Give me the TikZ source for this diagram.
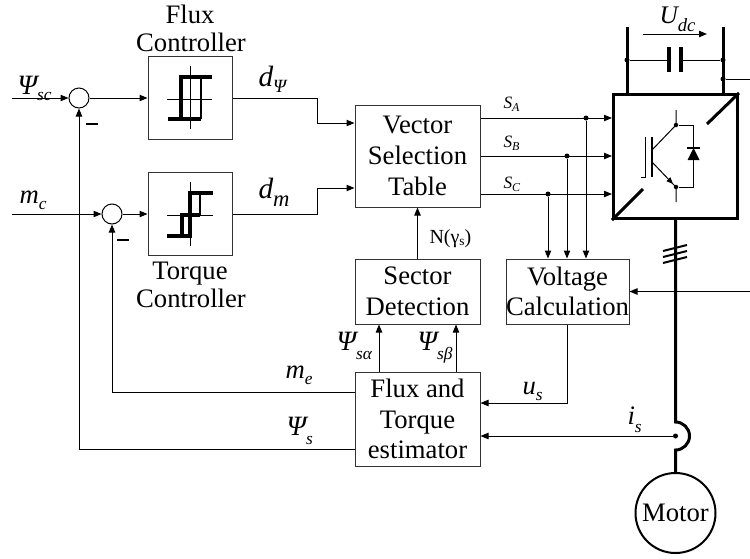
\documentclass[tikz,border=0pt]{standalone}
\usepackage{fontspec}
\setmainfont{Liberation Serif}
\usetikzlibrary{arrows.meta}
\newdimen\px \px=0.75pt
\newcommand\sbs[2][13]{\raisebox{-4.5pt}{\fontsize{#1}{#1}\selectfont\itshape #2}}
\newcommand\lab[2]{{\itshape #1}\sbs{#2}}
\begin{document}
\begin{tikzpicture}[x=0.75pt,y=-0.75pt,line width=0.75pt,
  box/.style={draw=black!80, line width=0.75pt, inner sep=0pt, align=center, font=\fontsize{20}{23}\selectfont},
  txt/.style={inner sep=0pt, font=\fontsize{20}{23}\selectfont},
  lbl/.style={inner sep=0pt, anchor=base west, font=\fontsize{20}{20}\selectfont},
  arr/.style={-{Triangle[length=6pt,width=4.8pt]}},
  sum/.style={circle, draw, minimum size=20\px, inner sep=0pt},
  dot/.style={circle, fill, minimum size=5\px, inner sep=0pt},
  tk/.style={line width=2.25pt},
  hthk/.style={line width=2.6pt},
  hthn/.style={line width=0.6pt}]
\useasboundingbox (0,0) rectangle (750,558);

% summing junctions
\node[sum] (s1) at (79,98) {};
\node[sum] (s2) at (112,214) {};
\coordinate (inPsi) at (12,98);
\coordinate (inM) at (12,214);
\node[inner sep=0pt] (minus1) at (92,124) {\rule{9pt}{1.6pt}};
\node[inner sep=0pt] (minus2) at (123,240) {\rule{9pt}{1.6pt}};

% controllers
\node[box, minimum width=84\px, minimum height=83\px] (flux) at (190,98) {};
\node[box, minimum width=84\px, minimum height=83\px] (torq) at (190,214) {};
\node[txt, anchor=base] (ft1) at (190,23) {Flux};
\node[txt, anchor=base] (ft2) at (191,51) {Controller};
\node[txt, anchor=base] (tt1) at (190,279) {Torque};
\node[txt, anchor=base] (tt2) at (191,307) {Controller};

% flux hysteresis
\draw[hthn] (190,66) -- (190,129);
\draw[hthn] (167,99) -- (212,99);
\draw[hthk] (168,119) -- (201,119);
\draw[line width=1.3pt] (201,119) -- (201,77);
\draw[hthk] (181,119) -- (181,77) -- (212,77);

% torque hysteresis
\draw[hthn] (190,182) -- (190,246);
\draw[hthn] (167,215) -- (213,215);
\draw[hthk] (167,236) -- (190,236) -- (190,193) -- (213,193);
\draw[line width=1.3pt] (200,193) -- (200,215);
\draw[hthk] (182,236) -- (182,215) -- (200,215);

% other blocks
\node[box, minimum width=125\px, minimum height=102\px] (vst) at (417.5,156) {Vector\\Selection\\Table};
\node[box, minimum width=125\px, minimum height=65\px] (sect) at (417.5,291.5) {Sector\\Detection};
\node[box, minimum width=123\px, minimum height=65\px] (volt) at (567.5,291.5) {Voltage\\Calculation};
\node[box, minimum width=125\px, minimum height=94\px] (est) at (417.5,419) {Flux and\\Torque\\estimator};
\node[draw, line width=2.25pt, minimum size=124\px, inner sep=0pt] (inv) at (675.5,156.5) {};
\node[circle, draw, line width=1.5pt, minimum size=80\px, inner sep=0pt, font=\fontsize{20}{23}\selectfont] (motor) at (675.5,513) {Motor};

% signal connectors
\draw[arr] (inPsi) -- (s1);
\draw[arr] (s1) -- (flux);
\draw[arr] (inM) -- (s2);
\draw[arr] (s2) -- (torq);
\draw[arr] (est.west |- 0,449) -| (s1.south);
\draw[arr] (est.west |- 0,392) -| (s2.south);
\draw[arr] (flux.east) -- (317,98) |- (vst.west |- 0,123);
\draw[arr] (torq.east) -- (317,214) |- (vst.west |- 0,188);

\node[dot] (dA) at (586,118) {};
\node[dot] (dB) at (567,156) {};
\node[dot] (dC) at (548,194) {};
\draw[arr] (vst.east |- dA) -- (inv.west |- dA);
\draw[arr] (vst.east |- dB) -- (inv.west |- dB);
\draw[arr] (vst.east |- dC) -- (inv.west |- dC);
\draw[arr] (dA) -- (dA |- volt.north);
\draw[arr] (dB) -- (dB |- volt.north);
\draw[arr] (dC) -- (dC |- volt.north);

\draw[arr] (sect) -- (vst);
\draw[arr] (est.north -| 379,0) -- (sect.south -| 379,0);
\draw[arr] (est.north -| 456,0) -- (sect.south -| 456,0);
\draw[arr] (volt.south) |- (est.east |- 0,403);
\coordinate (vin) at (750,291.5);
\draw[arr] (vin) -- (volt.east);
\node[dot] (isd) at (675.5,436) {};
\draw[arr] (isd) -- (est.east |- isd);

% labels
\node[lbl, font=\fontsize{21}{21}\selectfont] (lpsc) at (17,94) {\lab{Ψ}{sc}};
\node[lbl] (lmc) at (19,203) {\lab{m}{c}};
\node[lbl, font=\fontsize{22}{22}\selectfont] (ldp) at (258,86) {{\itshape d}\sbs[14]{Ψ}};
\node[lbl, font=\fontsize{22}{22}\selectfont] (ldm) at (258,198) {{\itshape d}\raisebox{-6pt}{\fontsize{17}{17}\selectfont\itshape m}};
\node[lbl, font=\fontsize{13}{13}\selectfont] (lsa) at (503,108) {{\itshape S}\raisebox{-2.5pt}{\fontsize{9}{9}\selectfont\itshape A}};
\node[lbl, font=\fontsize{13}{13}\selectfont] (lsb) at (503,147) {{\itshape S}\raisebox{-2.5pt}{\fontsize{9}{9}\selectfont\itshape B}};
\node[lbl, font=\fontsize{13}{13}\selectfont] (lsc) at (503,188) {{\itshape S}\raisebox{-2.5pt}{\fontsize{9}{9}\selectfont\itshape C}};
\node[lbl, font=\fontsize{19}{19}\selectfont] (ludc) at (659,23) {{\itshape U}\raisebox{-6pt}{\fontsize{14}{14}\selectfont\itshape dc}};
\node[lbl, font=\fontsize{15}{15}\selectfont] (lng) at (429,243) {N(γ\raisebox{-2pt}{\fontsize{10}{10}\selectfont s})};
\node[lbl, font=\fontsize{21}{21}\selectfont] (lpsa) at (336,350) {{\itshape Ψ}\raisebox{-7pt}{\fontsize{13}{13}\selectfont\itshape sα}};
\node[lbl, font=\fontsize{21}{21}\selectfont] (lpsb) at (417,350) {{\itshape Ψ}\raisebox{-7pt}{\fontsize{13}{13}\selectfont\itshape sβ}};
\node[lbl] (lme) at (285,378) {\lab{m}{e}};
\node[lbl, font=\fontsize{21}{21}\selectfont] (lps) at (286,435) {{\itshape Ψ}\raisebox{-7pt}{\fontsize{13}{13}\selectfont\itshape s}};
\node[lbl] (lus) at (522,394) {\lab{u}{s}};
\node[lbl] (lis) at (627,424) {{\itshape i}\raisebox{-6pt}{\fontsize{13}{13}\selectfont\itshape s}};

% DC link
\coordinate (dcL) at (627,27);
\coordinate (dcR) at (723,27);
\draw[tk] (dcL) -- (inv.north -| dcL);
\draw[tk] (dcR) -- (inv.north -| dcR);
\node[dot] (cL) at (627,60) {};
\node[dot] (cR) at (723,60) {};
\node[dot] (cR2) at (723,79) {};
\draw (cL) -- (669,60);
\draw (681,60) -- (cR);
\draw[line width=3pt] (669,47) -- (669,72);
\draw[line width=3pt] (681,47) -- (681,72);
\coordinate (vdc) at (750,79);
\draw (cR2) -- (vdc);
\draw[arr] (643,34) -- (707,34);

% inverter symbol
\draw[tk] (inv.south west) -- (643,189);
\draw[tk] (inv.north east) -- (707,124);
\draw (645,137) -- (645,177) -- (641,177);
\draw[line width=1.5pt] (652,137) -- (652,177);
\draw (652,150) -- (676,125) -- (676,110);
\draw[-{Triangle[length=5pt,width=4pt]}] (652,162) -- (673,184);
\draw (672,183) -- (676,187) -- (676,202);
\node[dot, minimum size=4.5\px] (qC) at (676,125) {};
\node[dot, minimum size=4.5\px] (qE) at (676,187) {};
\draw (qC) -- (693,125) -- (693,187) -- (qE);
\fill (687.5,160) -- (699.5,160) -- (693.5,148) -- cycle;
\draw[line width=1pt] (687,148) -- (700,148);

% motor feed
\draw[tk] (inv.south) -- (675.5,422) arc[start angle=-90, end angle=90, radius=14] -- (motor.north);
\draw[line width=1.5pt] (663,251) -- (687,245);
\draw[line width=1.5pt] (663,257) -- (687,251);
\draw[line width=1.5pt] (663,263) -- (687,257);
\end{tikzpicture}
\end{document}
